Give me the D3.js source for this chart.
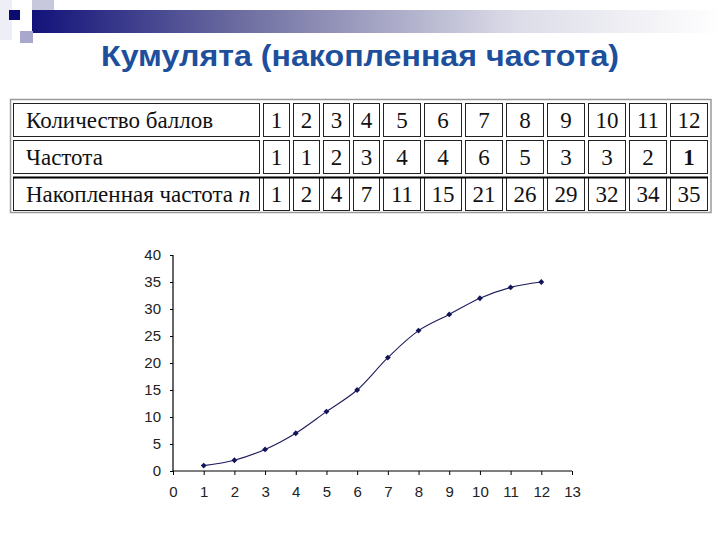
<!DOCTYPE html>
<html>
<head>
<meta charset="utf-8">
<script src="https://cdnjs.cloudflare.com/ajax/libs/d3/7.8.5/d3.min.js"></script>
<style>
  body { margin: 0; background: #fff; }
  svg { display: block; }
</style>
</head>
<body>
<div id="chart"></div>
<script>
var width = 720, height = 540;

// table data
var rowLabels = ["Количество баллов", "Частота", "Накопленная частота "];
var scores = [1, 2, 3, 4, 5, 6, 7, 8, 9, 10, 11, 12];
var freq = [1, 1, 2, 3, 4, 4, 6, 5, 3, 3, 2, 1];
var cumul = [1, 2, 4, 7, 11, 15, 21, 26, 29, 32, 34, 35];

// axis ticks
var xTicks = [0, 1, 2, 3, 4, 5, 6, 7, 8, 9, 10, 11, 12, 13];
var yTicks = [0, 5, 10, 15, 20, 25, 30, 35, 40];

var svg = d3.select('#chart')
    .append('svg')
    .attr('width', width)
    .attr('height', height);

svg.append('rect').attr('width', width).attr('height', height).attr('fill', '#fff');

// ---- slide decoration top-left
var grad = svg.append('defs').append('linearGradient')
    .attr('id', 'bar')
    .attr('x1', 0).attr('x2', 1).attr('y1', 0).attr('y2', 0);
grad.append('stop').attr('offset', 0).attr('stop-color', '#12127a');
grad.append('stop').attr('offset', 0.3).attr('stop-color', '#6c6ca0');
grad.append('stop').attr('offset', 0.7).attr('stop-color', '#dcdce8');
grad.append('stop').attr('offset', 1).attr('stop-color', '#ffffff');

svg.append('rect').attr('x', 0).attr('y', 0).attr('width', 12).attr('height', 40).attr('fill', '#eeeef6');
svg.append('rect').attr('x', 32).attr('y', 0).attr('width', 22).attr('height', 22).attr('fill', '#c8c8dc');
svg.append('rect').attr('x', 32).attr('y', 10).attr('width', 690).attr('height', 23).attr('fill', 'url(#bar)');
svg.append('rect').attr('x', 9).attr('y', 10).attr('width', 11).attr('height', 10).attr('fill', '#0c0c70');
svg.append('rect').attr('x', 20).attr('y', 31).attr('width', 13).attr('height', 12).attr('fill', '#a8a8cc');

// ---- title
svg.append('text')
    .attr('x', 360)
    .attr('y', 66)
    .attr('text-anchor', 'middle')
    .attr('font-family', 'Liberation Sans, Arial, sans-serif')
    .attr('font-weight', 'bold')
    .attr('font-size', 30)
    .attr('textLength', 518)
    .attr('lengthAdjust', 'spacingAndGlyphs')
    .attr('fill', '#1d4f9c')
    .text('Кумулята (накопленная частота)');

// ---- table
var tableX = 13, cellGap = 3, labelW = 247;
var rowsY = [103, 140, 177], rowH = 34;
var rows = [scores, freq, cumul];

// column widths: narrow when every value in the column is one digit
var cols = [];
var cx = tableX + labelW + cellGap;
scores.forEach(function(s, i){
    var wide = rows.some(function(r){ return String(r[i]).length > 1 });
    var w = wide ? 38 : 27;
    cols.push({x: cx, w: w});
    cx += w + cellGap;
});
var tableRight = cx - cellGap;

var tbl = svg.append('g').attr('class', 'table');

tbl.append('rect')
    .attr('x', 10.5).attr('y', 99.5)
    .attr('width', tableRight + 3 - 10.5).attr('height', 113)
    .attr('fill', 'none').attr('stroke', '#9a9a9a').attr('stroke-width', 1.5);

rows.forEach(function(r, ri){
    var y = rowsY[ri];
    tbl.append('rect')
        .attr('x', tableX + 0.5).attr('y', y + 0.5)
        .attr('width', labelW - 1).attr('height', rowH - 1)
        .attr('fill', '#fff').attr('stroke', '#222');
    var lab = tbl.append('text')
        .attr('x', 26).attr('y', y + 25)
        .attr('font-family', 'Liberation Serif, Times New Roman, serif')
        .attr('font-size', 23)
        .attr('fill', '#111')
        .text(rowLabels[ri]);
    if(ri == 2){
        lab.append('tspan').attr('font-style', 'italic').text('n');
    }
    tbl.selectAll('.c' + ri)
        .data(r)
        .enter().append('rect')
        .attr('x', function(d, i){ return cols[i].x + 0.5 })
        .attr('y', y + 0.5)
        .attr('width', function(d, i){ return cols[i].w - 1 })
        .attr('height', rowH - 1)
        .attr('fill', '#fff').attr('stroke', '#222');
    tbl.selectAll('.t' + ri)
        .data(r)
        .enter().append('text')
        .attr('x', function(d, i){ return cols[i].x + cols[i].w / 2 })
        .attr('y', y + 25)
        .attr('text-anchor', 'middle')
        .attr('font-family', 'Liberation Serif, Times New Roman, serif')
        .attr('font-size', 23)
        .attr('font-weight', function(d, i){ return (ri == 1 && i == r.length - 1) ? 'bold' : 'normal' })
        .attr('fill', '#111')
        .text(function(d){ return d });
});
// heavier line on top of last row
tbl.append('line')
    .attr('x1', tableX).attr('x2', tableRight)
    .attr('y1', rowsY[2] + 0.5).attr('y2', rowsY[2] + 0.5)
    .attr('stroke', '#000').attr('stroke-width', 2);

// ---- chart
var x = d3.scaleLinear().domain([0, 13]).range([173, 572]);
var y = d3.scaleLinear().domain([0, 40]).range([471, 255]);

var tickFont = 'Liberation Sans Narrow, Arial Narrow, Liberation Sans, Arial, sans-serif';

var xAxis = svg.append('g')
    .attr('transform', 'translate(0,' + y(0) + ')')
    .call(d3.axisBottom(x).tickValues(xTicks).tickSize(4).tickPadding(11).tickFormat(d3.format('d')));
var yAxis = svg.append('g')
    .attr('transform', 'translate(' + x(0) + ',0)')
    .call(d3.axisLeft(y).tickValues(yTicks).tickSize(3).tickPadding(9).tickFormat(d3.format('d')));

[xAxis, yAxis].forEach(function(a){
    a.select('.domain').attr('stroke', '#000').attr('stroke-width', 1.2);
    a.selectAll('.tick line').attr('stroke', '#000');
    a.selectAll('.tick text')
        .attr('font-family', tickFont)
        .attr('font-size', 15)
        .attr('fill', '#222');
});
xAxis.select('.domain').attr('d', 'M' + x(0) + ',0H' + x(13));
yAxis.select('.domain').attr('d', 'M0,' + y(40) + 'V' + y(0));

var pts = scores.map(function(s, i){ return [s, cumul[i]] });

var line = d3.line()
    .x(function(d){ return x(d[0]) })
    .y(function(d){ return y(d[1]) })
    .curve(d3.curveCatmullRom);

svg.append('path')
    .datum(pts)
    .attr('d', line)
    .attr('fill', 'none')
    .attr('stroke', '#1c1c5c')
    .attr('stroke-width', 1.1);

svg.selectAll('.pt')
    .data(pts)
    .enter().append('path')
    .attr('class', 'pt')
    .attr('transform', function(d){ return 'translate(' + x(d[0]) + ',' + y(d[1]) + ')' })
    .attr('d', d3.symbol(d3.symbolDiamond2, 22))
    .attr('fill', '#14145a');
</script>
</body>
</html>
